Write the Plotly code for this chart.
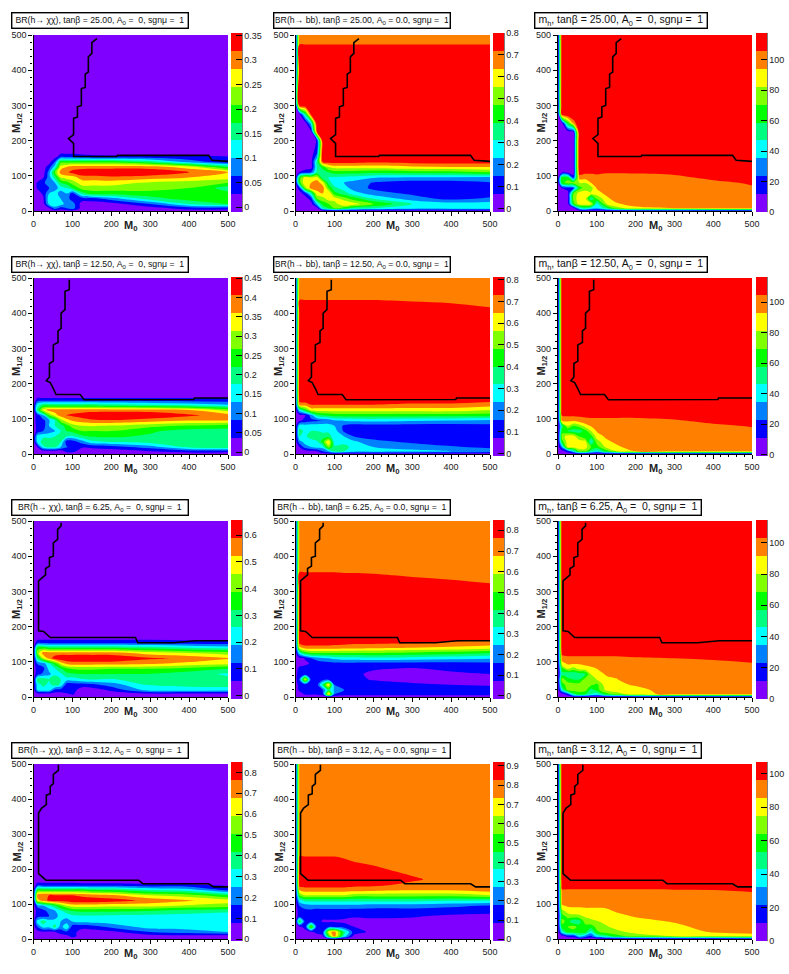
import numpy as np
import plotly.graph_objects as go

W = 789
H = 974

# grid of the scan, M0 across and M1/2 up
m0 = [0, 10, 25, 40, 55, 70, 85, 100, 125, 150, 200, 300, 400, 500]
m12 = [0, 8, 20, 35, 50, 65, 80, 95, 110, 125, 140, 155, 170, 200, 225, 250, 275, 300, 400, 500]

# values read as colour band number (0 violet ... 9 red), one list per M0 column
zero = [0] * 20

chi_25 = [zero,
    [0,0,0,0,0,.6,.6,0,0,0,0,0,0] + [0]*7,
    [0,0,0,.3,.7,1.4,1.3,.4,0,0,0,0,0] + [0]*7,
    [0,.3,2.8,3.2,2.5,1.5,2,2,2,1,0,0,0] + [0]*7,
    [0,2,3.4,3,3,2,2.5,4,5.5,3,1.5,0,0] + [0]*7,
    [0,1,3,2.5,2,3,4.5,6.5,8,7,5,1,0] + [0]*7,
    [0,1.5,2,2,2.5,3.5,5,7,8.3,7.5,5,1,0] + [0]*7,
    [0,2,2,1,1,4.5,6,7,8.8,8,5,1,0] + [0]*7,
    [0,0,0,1,4,6,7,8,9.3,8,5,.8,0] + [0]*7,
    [0,0,0,1,5,6,7,8,9.5,8,5,.7,0] + [0]*7,
    [0,0,0,2,5,6,7,8.2,9.6,8,5,.6,0] + [0]*7,
    [0,0,1.5,4,5.2,5.8,6.3,8,9.3,8,4,.6,0] + [0]*7,
    [0,1,3.5,5,5.5,5.5,6,7.5,8.5,7,2,.6,0] + [0]*7,
    [0,1,4.5,5,4.8,4,5.5,7,7.5,4.5,.8,.5,0] + [0]*7]

bb_25 = [zero,
    [0,0,0,0,0,1,5,5,.5,0,0,0,0,0,0,0,.2,9,9.3,8.2],
    [0,0,0,0,1,6,7.5,7,1,0,0,0,0,0,0,0,4,9.4,9.3,8.2],
    [0,0,0,1,3.5,8,7.5,6.5,1.5,0,0,0,0,0,.2,3,9,9.5,9.3,8.2],
    [0,0,2.5,5.5,7,8,8,7,3.8,3.5,3.8,2,1,.6,8.5,9.5,9.5,9.5,9.3,8.2],
    [0,3.5,5,6,7.5,8,7,3.8,3.8,5,8.8,9.5] + [9.5]*6 + [9.3,8.2],
    [0,4.5,5.5,7,7.5,5.5,4,3.5,4.5,6.5,9,9.5] + [9.5]*6 + [9.3,8.2],
    [0,5.5,6,7,5,3.8,3,3.3,5,7,9,9.5] + [9.5]*6 + [9.3,8.2],
    [0,5,7.5,6,4,3,2.5,3.2,5,7,9,9.5] + [9.5]*6 + [9.3,8.2],
    [0,4,7,5,3,2,2.2,3,5,7,9,9.5] + [9.5]*6 + [9.3,8.2],
    [0,3.5,5.5,3.5,2,1.3,1.4,2.6,4.8,7,8.8,9.5] + [9.5]*6 + [9.3,8.2],
    [0,3,3.5,2,1.3,1,1,2.3,5,7.3,9,9.5] + [9.5]*6 + [9.3,8.2],
    [0,3,3,1.2,1,1,1,2.3,5,7.5,9,9.5] + [9.5]*6 + [9.3,8.2],
    [0,3,3,1.7,1,1,1.4,2.2,5.5,7.5,9,9.5] + [9.5]*6 + [9.3,8.2]]

mh_25 = [zero,
    [0,0,0,0,0,.5,5,5,0,0,0,0,0,0,0,.2,9,9.5,9.5,9.5],
    [0,0,0,0,0,1,6,5,0,0,0,0,0,0,0,5,9.5,9.5,9.5,9.5],
    [0,0,5,6,5.5,1.5,6,1,0,0,0,0,0,0,.5,8,9.5,9.5,9.5,9.5],
    [0,3,7,7,7,5,6.5,8,9,9.5] + [9.5]*10,
    [0,4,7,7,7,6,6.5,8,8.7,9.4] + [9.5]*10,
    [0,3,7,3.5,6.5,6,7.5,8,8.7,9.4] + [9.5]*10,
    [0,2.5,3,5.5,7,7.6,8,8.2,8.7,9.4] + [9.5]*10,
    [0,4,6.5,7.2,7.8,8,8,8.1,8.6,9.3] + [9.5]*10,
    [0,6,7.3,8,8,8,8,8.1,8.6,9.3] + [9.5]*10,
    [0,7.2,8,8,8,8,8,8.2,8.6,9.3] + [9.5]*10,
    [0,7.5,8,8,8,8,8.1,8.3,8.7,9.2] + [9.5]*10,
    [0,7.8,8,8,8,8.1,8.3,8.7,9,9.3] + [9.5]*10,
    [0,7.8,8,8,8,8.4,8.6,8.8,9,9.3] + [9.5]*10]

chi_12 = [zero,
    [0,0,.5,2.8,3,.8,.8,1,1,4,3,.7,0] + [0]*7,
    [0,0,3.3,4,3.3,1.5,1,1.2,2.5,7,4,.7,0] + [0]*7,
    [0,0,3.8,4,3.3,2,2.5,2.3,5.5,8,4,.7,0] + [0]*7,
    [0,0,3.8,4,3.5,2.5,3.5,3.5,7,8,4,.7,0] + [0]*7,
    [0,0,2.5,3.6,3.6,3.5,4,6,8,8,4,.7,0] + [0]*7,
    [0,.8,1.6,1,3.5,4.5,5,7,8.5,8,4,.7,0] + [0]*7,
    [0,.8,1,1,3.3,4.8,6,7.6,8.7,8,4,.7,0] + [0]*7,
    [0,0,.6,2,4.2,5.5,6.5,8,9,8,4,.7,0] + [0]*7,
    [0,0,.7,3.3,4.6,5.5,6.6,8.3,9.3,8,4,.7,0] + [0]*7,
    [0,0,1,3.6,4.7,5.5,6.4,8.4,9.5,8,3.7,.7,0] + [0]*7,
    [0,.5,2,4,4.3,4.7,5.8,8,9.3,8,3.4,.7,0] + [0]*7,
    [0,1,3.8,4,4,4,5.4,7.5,8.7,7.5,3,.7,0] + [0]*7,
    [0,.8,4.5,4.2,4,4,5,7.5,8,6,2.5,.7,0] + [0]*7]

bb_12 = [zero,
    [0,0,.5,2,3.5,4,3,.3,.2,3,8,9,9.5] + [9.5]*5 + [8.8,8],
    [0,.1,2,3,3.3,3.2,3,.8,.5,5,8,9.2,9.5] + [9.5]*5 + [8.8,8],
    [0,.3,2.5,3,4,3.5,3,1.2,2,7,8.5,9.3,9.5] + [9.5]*5 + [8.8,8],
    [0,.5,3,3.3,4.5,3.5,3,1.3,4,7,8.5,9.3,9.5] + [9.5]*5 + [8.8,8],
    [0,1.5,3,5,4,3.3,3,1.5,4.5,7,8.5,9.3,9.5] + [9.5]*5 + [8.8,8],
    [0,2.5,6,7.5,4,3.3,2.9,1.8,4.8,7,8.5,9.3,9.5] + [9.5]*5 + [8.8,8],
    [0,4,3.7,3,3,3,2.5,2.3,5,7,8.5,9.3,9.5] + [9.5]*5 + [8.8,8],
    [0,3.5,3.8,3.2,2.5,1.3,1.3,2.6,5,7,8.5,9.3,9.5] + [9.5]*5 + [8.8,8],
    [0,3,3.2,2.7,1.5,1,1,2.7,5,7,8.5,9.3,9.5] + [9.5]*5 + [8.8,8],
    [0,3,2.5,1.8,1.1,1,1.1,2.8,5,7,8.5,9.3,9.5] + [9.5]*5 + [8.8,8],
    [0,2.8,2,1.3,1,1,1,2.6,5,7,8.3,9.2,9.5] + [9.5]*5 + [8.75,8],
    [0,2.5,1.6,1,1,1,1,2.5,5,7,8.3,9.2,9.5] + [9.5]*5 + [8.7,8],
    [0,2,1.3,1,1,1,1.2,2.2,5,6.5,8,9,9.5] + [9.5]*5 + [8.6,8]]

mh_12 = [zero,
    [0,0,2,5,6,5,4,7.9,8.6,9.5] + [9.5]*10,
    [0,1,7,7,7,4.5,6.5,7.7,8.7,9.5] + [9.5]*10,
    [0,3,7,7,7,4,5.5,7.7,8.7,9.5] + [9.5]*10,
    [0,6,7,7,5.5,4,6,8,8.7,9.5] + [9.5]*10,
    [0,6,7,7,4.5,5,7,8.2,8.7,9.5] + [9.5]*10,
    [0,4,5.5,3.2,5,6.5,7.6,8.3,8.7,9.5] + [9.5]*10,
    [0,3,5,6,7,7.6,8,8.3,8.7,9.5] + [9.5]*10,
    [0,5,6.8,7.3,7.7,8,8.1,8.3,8.7,9.5] + [9.5]*10,
    [0,6.5,7.3,7.7,8,8,8.1,8.3,8.7,9.5] + [9.5]*10,
    [0,7.6,8,8,8,8,8.1,8.4,8.6,9.5] + [9.5]*10,
    [0,7.8,8,8,8,8,8.1,8.4,8.9,9.5] + [9.5]*10,
    [0,7.8,8,8,8,8.1,8.3,8.8,9.2,9.5] + [9.5]*10,
    [0,7.8,8,8,8,8.2,8.6,9,9.3,9.5] + [9.5]*10]

chi_6 = [zero,
    [0,0,2.5,3,4,1,.9,1.6,4,6,5,.9,0] + [0]*7,
    [0,0,3,3.8,4,1.8,1.2,2,6.5,8,5,1,0] + [0]*7,
    [0,0,3,3.2,3.5,2.2,2.8,3.5,8,8,4.5,1,0] + [0]*7,
    [0,0,1.2,4,4.3,3.2,3.4,5,9,8,4.5,1,0] + [0]*7,
    [0,0,1.1,3.3,3.5,3.3,4.3,6.8,9.4,8,4.5,1,0] + [0]*7,
    [0,.3,1.3,1,3,4.2,5.2,7.8,9.4,8,4.5,1,0] + [0]*7,
    [0,.6,.9,.9,3,4.3,5.6,8,9.4,8,4.5,1,0] + [0]*7,
    [0,0,0,1,3.4,4.5,5.7,8,9.5,8,4.5,1,0] + [0]*7,
    [0,0,0,1.2,3.5,4.5,5.7,8,9.4,8,4.5,1,0] + [0]*7,
    [0,0,.7,2,3.4,4.5,5.5,8,9.4,8,4.5,1,0] + [0]*7,
    [0,0,3,3.6,4,4.4,5.5,7.7,8.7,7,4,1,0] + [0]*7,
    [0,0,3,3.8,4,4,5,7.2,8.3,6.5,3.5,.8,0] + [0]*7,
    [0,0,2.8,4,3.8,3.3,4.5,6.8,7.6,6,3,.8,0] + [0]*7]

bb_6 = [zero,
    [0,0,.7,.9,1.5,1.2,.8,0,.2,3,7,9,9.4] + [9.3]*4 + [9.1,8,8],
    [0,.6,.9,.9,7,.9,.9,.3,.6,5,8,9.2,9.4] + [9.3]*4 + [9.1,8,8],
    [0,.6,.9,.9,1,1,.9,.6,1.5,5.5,8,9.2,9.4] + [9.3]*4 + [9.1,8,8],
    [0,.6,.9,.9,.9,.9,.9,.8,2,5.5,8,9.2,9.4] + [9.3]*4 + [9.1,8,8],
    [0,.8,1.5,4,1,1,1,1,2.3,5.5,8,9.2,9.4] + [9.3]*4 + [9.1,8,8],
    [0,8,4,7.5,1,1,1,1.1,2.5,5.5,8,9.2,9.4] + [9.3]*4 + [9.1,8,8],
    [0,1.5,2.3,1.5,1,1,1,1.2,2.8,5.5,8,9,9.3] + [9.3]*4 + [9.1,8,8],
    [0,.8,1.5,1,1,1,1,1.2,3,5.5,7.8,9,9.3] + [9.3]*4 + [9.05,8,8],
    [0,.8,1,1,.8,.7,.8,1.2,3,5.5,7.8,8.8,9.3] + [9.3]*4 + [9.05,8,8],
    [0,.8,1,1,.4,.3,.6,1.1,3.2,5.5,7.7,8.8,9.3] + [9.3]*4 + [9,8,8],
    [0,.8,1,.6,.3,.2,.4,1.1,3,5.3,7.5,8.7,9.2] + [9.3]*4 + [8.85,8,8],
    [0,.8,.9,.5,.3,.3,.7,1.1,2.8,5,7.3,8.4,9] + [9.2]*4 + [8.75,8,8],
    [0,.8,.9,.4,.3,.5,.9,1.2,2.6,4.5,7,8.2,8.9] + [9]*4 + [8.65,8,8]]

mh_6 = [zero,
    [0,0,3,5,6,4,5,7,8,8.8,9.5] + [9.5]*9,
    [0,1,6,6,5,3.5,6.5,7.7,8.3,8.8,9.5] + [9.5]*9,
    [0,4,6,6,4.5,3.5,6,7.6,8.3,8.8,9.5] + [9.5]*9,
    [0,5,6,6,4.5,4,6.8,7.6,8.3,8.8,9.5] + [9.5]*9,
    [0,4.5,6,6,6,4.2,7,7.8,8.3,8.8,9.5] + [9.5]*9,
    [0,3.5,4,5.8,5.5,6.6,7.3,7.8,8.3,8.8,9.5] + [9.5]*9,
    [0,3,5,5.2,6.5,7.2,7.5,8,8.3,8.8,9.5] + [9.5]*9,
    [0,5,6.8,7.2,7.3,7.6,7.8,8,8.3,8.8,9.5] + [9.5]*9,
    [0,6,7,7.3,7.45,7.7,8,8.1,8.3,8.8,9.5] + [9.5]*9,
    [0,7,7.2,7.6,8,8,8,8.1,8.4,8.9,9.5] + [9.5]*9,
    [0,7.9,8,8,8,8,8,8.2,8.5,9.2,9.5] + [9.5]*9,
    [0,7.9,8,8,8,8,8.1,8.3,8.6,9.3,9.5] + [9.5]*9,
    [0,7.9,8,8,8,8,8,8.45,8.8,9.4,9.5] + [9.5]*9]

chi_3 = [zero,
    [0,0,.1,1.5,3,1,.8,1.8,7,8,5,.8,0] + [0]*7,
    [0,0,.3,3,4,1.2,1.2,2.4,8,8.5,5,.8,0] + [0]*7,
    [0,0,.3,2.8,3,1.5,1.8,3.3,8.7,8.5,5,.8,0] + [0]*7,
    [0,0,.4,4,3,2,2.4,4.3,9,8.5,5,.8,0] + [0]*7,
    [0,0,1,2,2.5,3,3.3,5.5,9,8.5,5,.8,0] + [0]*7,
    [0,.2,1.3,3.5,2,2.8,4,6.5,9,8.5,5,.8,0] + [0]*7,
    [0,.8,.9,1,2.5,3.2,4.5,7,9.2,8.5,5,.8,0] + [0]*7,
    [0,0,0,.9,2.8,3.3,4.7,7,9.3,8.2,5,.7,0] + [0]*7,
    [0,0,0,1,3,3.3,4.7,7,9.2,8,4.6,.7,0] + [0]*7,
    [0,0,.2,1.8,3,3.2,4.7,6.8,9,7.7,4.5,.7,0] + [0]*7,
    [0,0,1.5,3,3,3.1,4.5,6.8,8.2,6.5,3.5,.6,0] + [0]*7,
    [0,0,2,3,3,3,4,6.3,7.6,6,3,.6,0] + [0]*7,
    [0,0,2.5,3,3,3,3.7,6,7,4.5,1.2,.3,0] + [0]*7]

bb_3 = [zero,
    [0,0,0,.3,5,.9,.9,1.5,3,5.5,7.5,9,9.3,9.1,8.8,8.1,8,8,8,8],
    [0,0,.2,.8,1,.9,1.2,2,3.8,6.5,8,9,9.3,9.1,8.8,8.1,8,8,8,8],
    [0,0,.3,6,1,.8,1.2,2.2,3.8,6.5,8,9,9.3,9.1,8.8,8.1,8,8,8,8],
    [0,.1,.8,1,.9,.7,1,2.2,3.8,6.5,8,9,9.3,9.1,8.8,8.1,8,8,8,8],
    [0,.3,1,1.3,.4,.7,1.1,2.2,3.8,6.5,8,9,9.3,9.1,8.8,8.1,8,8,8,8],
    [0,5,7,1.2,.4,.7,1.1,2.2,3.8,6.5,8,9,9.3,9.1,8.8,8.1,8,8,8,8],
    [0,8,8,1.2,.4,.7,1.1,2.2,3.8,6.5,8,9,9.3,9.1,8.8,8.1,8,8,8,8],
    [0,3,4,1,.3,.7,1.1,2.2,3.8,6.5,8,9,9.2,9.1,8.6,8.1,8,8,8,8],
    [0,.2,1,.5,.2,.6,1,2.2,3.8,6,8,8.8,9.1,9,8.4,8.1,8,8,8,8],
    [0,0,.2,.1,.2,.7,1,2,3.8,6,7.8,8.8,8.9,8.7,8.2,8,8,8,8,8],
    [0,0,0,0,.2,.6,1,2,3.8,6,7.6,8.2,8.7,8.1,8,8,8,8,8,8],
    [0,0,0,0,0,.3,1,1.7,3.6,6,7.6,8,8,8,8,8,8,8,8,8],
    [0,0,0,0,0,.2,.8,1.4,3.5,6.5,8,8,8,8,8,8,8,8,8,8]]

mh_3 = [zero,
    [0,0,3,5,6,5,6,7.4,7.8,8,8.4,9,9.5] + [9.5]*7,
    [0,.8,5,5.5,5,5.8,7,7.6,8,8.1,8.4,9.2,9.5] + [9.5]*7,
    [0,.8,5,6,3.5,6.2,7,7.7,8,8.1,8.4,9.2,9.5] + [9.5]*7,
    [0,3,5,5,4,6.3,7,7.7,8,8.1,8.4,9.2,9.5] + [9.5]*7,
    [0,2,5,5,6,6.6,7.2,7.7,8,8.1,8.4,9.2,9.5] + [9.5]*7,
    [0,1.2,3,5,6.2,6.8,7.2,7.7,8,8.1,8.4,9.2,9.5] + [9.5]*7,
    [0,3,5.3,5.8,6.4,7,7.2,7.7,8,8.1,8.4,9.2,9.5] + [9.5]*7,
    [0,4,6,6.4,6.8,7.1,7.3,7.7,8,8.1,8.4,9.2,9.5] + [9.5]*7,
    [0,5,6.2,6.8,7,7.2,7.6,8,8,8.1,8.4,9.2,9.5] + [9.5]*7,
    [0,6,6.8,7,7.1,7.6,8,8,8,8.1,8.4,9.2,9.5] + [9.5]*7,
    [0,6.5,7,7.2,7.6,8,8,8,8,8.1,8.45,9.2,9.5] + [9.5]*7,
    [0,6.7,7.6,8,8,8,8,8,8,8.1,8.5,9.2,9.5] + [9.5]*7,
    [0,6.8,8,8,8,8,8,8,8,8.2,8.7,9.2,9.5] + [9.5]*7]

# black limit curve of each tan beta row
line_25_x = [163,150,150,141,141,133,133,123,123,113,113,103,103,90,103,103,214,216,450,459,500]
line_25_y = [490,478,448,438,395,389,351,348,300,296,267,263,217,206,192,155,155,158,158,144,141]
line_12_x = [92,92,81,81,71,71,63,63,51,51,41,41,33,43,51,58,120,130,412,414,500]
line_12_y = [495,467,462,410,400,357,350,317,310,264,257,219,208,203,186,169,169,154,155,159,159]
line_6_x = [71,71,62,62,51,51,41,41,31,31,13,13,26,43,262,268,360,416,500]
line_6_y = [495,486,476,448,438,400,396,372,365,347,330,188,186,169,169,154,154,160,160]
line_3_x = [64,64,51,51,43,43,33,33,21,13,13,32,270,281,450,463,500]
line_3_y = [498,482,470,444,436,415,411,384,374,360,187,168,168,158,158,149,149]

tanb = ["25.00", "12.50", "6.25", "3.12"]
lines = [(line_25_x, line_25_y), (line_12_x, line_12_y), (line_6_x, line_6_y), (line_3_x, line_3_y)]
bands = [[chi_25, bb_25, mh_25], [chi_12, bb_12, mh_12], [chi_6, bb_6, mh_6], [chi_3, bb_3, mh_3]]

# colour bar range and labelled ticks, row by row
ranges = [[(-.010, .355), (-.014, .80), (0, 117.6)],
          [(-.010, .453), (-.011, .812), (-.9, 116.4)],
          [(-.012, .656), (-.016, .85), (0, 114.6)],
          [(-.008, .85), (-.009, .92), (0, 107)]]
ticks = [[[0,.05,.1,.15,.2,.25,.3,.35], [0,.1,.2,.3,.4,.5,.6,.7,.8], [0,20,40,60,80,100]],
         [[0,.05,.1,.15,.2,.25,.3,.35,.4,.45], [0,.1,.2,.3,.4,.5,.6,.7,.8], [0,20,40,60,80,100]],
         [[0,.1,.2,.3,.4,.5,.6], [0,.1,.2,.3,.4,.5,.6,.7,.8], [0,20,40,60,80,100]],
         [[0,.1,.2,.3,.4,.5,.6,.7,.8], [0,.1,.2,.3,.4,.5,.6,.7,.8,.9], [0,20,40,60,80,100]]]

palette = ["#8000ff", "#0000ff", "#0080ff", "#00ffff", "#00ff80",
           "#00ff00", "#80ff00", "#ffff00", "#ff8000", "#ff0000"]

# page layout in pixels
col_left = [33.5, 295.5, 558]
col_right = [228, 490, 752]
row_top = [35, 278, 521, 764]
row_bottom = [211, 454, 697, 939]
bar_left = [231, 493, 756]
bar_top = [33, 277, 520, 762]
bar_bottom = [212, 456, 699, 941]
box_left = [11, 273, 534]
box_right = [[184, 446, 703], [184, 446, 703], [184, 446, 697], [184, 446, 697]]
box_mid = [20.5, 264, 507, 750.5]

FONT = "Liberation Sans"


def px(x):
    return x / W


def py(y):
    return 1 - y / H


def title_text(col, t):
    a0 = "A<sub>0</sub>"
    if col == 0:
        return "BR(h→ χχ), tanβ = %s, %s =  0, sgnμ =  1" % (t, a0)
    if col == 1:
        return "BR(h→ bb), tanβ = %s, %s = 0.0, sgnμ =  1" % (t, a0)
    return "m<sub>h</sub>, tanβ = %s, %s =  0, sgnμ =  1" % (t, a0)


scale = []
for i, c in enumerate(palette):
    scale.append([i / 10, c])
    scale.append([(i + 1) / 10, c])

fig = go.Figure()
annotations = []
shapes = []
axes = {}

for r in range(4):
    for c in range(3):
        n = r * 3 + c + 1
        zmin, zmax = ranges[r][c]
        step = (zmax - zmin) / 10
        z = zmin + (np.array(bands[r][c]).T + .5) * step
        fig.add_trace(go.Contour(
            x=m0, y=m12, z=z, xaxis="x%d" % n, yaxis="y%d" % n,
            zmin=zmin, zmax=zmax, autocontour=False,
            contours=dict(start=zmin + step, end=zmax - step, size=step,
                          coloring="fill", showlines=False),
            line=dict(width=0),
            colorscale=scale,
            colorbar=dict(
                x=px(bar_left[c]), xanchor="left", xpad=0, ypad=0,
                y=py(bar_bottom[r]), yanchor="bottom",
                len=(bar_bottom[r] - bar_top[r]) / H, lenmode="fraction",
                thickness=11, thicknessmode="pixels", outlinewidth=0,
                tickmode="array", tickvals=ticks[r][c],
                ticktext=["%g" % v for v in ticks[r][c]],
                ticks="inside", ticklen=6, tickwidth=1.2, tickcolor="black",
                tickfont=dict(family=FONT, size=9, color="#222222")),
        ))
        fig.add_trace(go.Scatter(
            x=lines[r][0], y=lines[r][1], xaxis="x%d" % n, yaxis="y%d" % n,
            mode="lines", line=dict(color="black", width=1.6), showlegend=False,
            hoverinfo="skip"))

        common = dict(range=[0, 500], dtick=100, ticks="outside", ticklen=4, tickwidth=1,
                      tickcolor="black", showline=True, linecolor="black", linewidth=1.3,
                      showgrid=False, zeroline=False,
                      minor=dict(dtick=20, ticks="outside", ticklen=2, tickcolor="black", tickwidth=1),
                      tickfont=dict(family=FONT, size=9, color="#222222"))
        axes["xaxis%d" % n] = dict(common, anchor="y%d" % n,
                                   domain=[px(col_left[c]), px(col_right[c])])
        axes["yaxis%d" % n] = dict(common, anchor="x%d" % n,
                                   domain=[py(row_bottom[r]), py(row_top[r])])

        annotations.append(dict(
            xref="paper", yref="paper", x=px((col_left[c] + col_right[c]) / 2),
            y=py(row_bottom[r] + 15), xanchor="center", yanchor="middle", showarrow=False,
            text="<b>M<sub>0</sub></b>",
            font=dict(family=FONT, size=11, color="#222222")))
        annotations.append(dict(
            xref="paper", yref="paper", x=px(col_left[c] - 16.5),
            y=py((row_top[r] + row_bottom[r]) / 2), xanchor="center", yanchor="middle",
            showarrow=False, textangle=-90,
            text="<b>M<sub>1/2</sub></b>",
            font=dict(family=FONT, size=11, color="#222222")))
        annotations.append(dict(
            xref="paper", yref="paper", x=px(box_left[c]), y=py(box_mid[r]),
            xanchor="left", yanchor="middle", showarrow=False, align="center",
            width=box_right[r][c] - box_left[c], height=12, borderpad=1,
            bgcolor="white", bordercolor="black", borderwidth=1.4,
            text=title_text(c, tanb[r]),
            font=dict(family=FONT, size=8.7 if c < 2 else 10.5, color="#111111")))
        shapes.append(dict(type="line", xref="paper", yref="paper",
                           x0=px(bar_left[c] + 11), x1=px(bar_left[c] + 11),
                           y0=py(bar_bottom[r]), y1=py(bar_top[r]),
                           line=dict(color="black", width=1)))

fig.update_layout(
    width=W, height=H, autosize=False,
    margin=dict(l=0, r=0, t=0, b=0, autoexpand=False),
    paper_bgcolor="white", plot_bgcolor="white",
    showlegend=False, annotations=annotations, shapes=shapes, **axes)

fig.write_html("out.html", config={"displayModeBar": False},
               post_script="document.body.style.margin='0';")
